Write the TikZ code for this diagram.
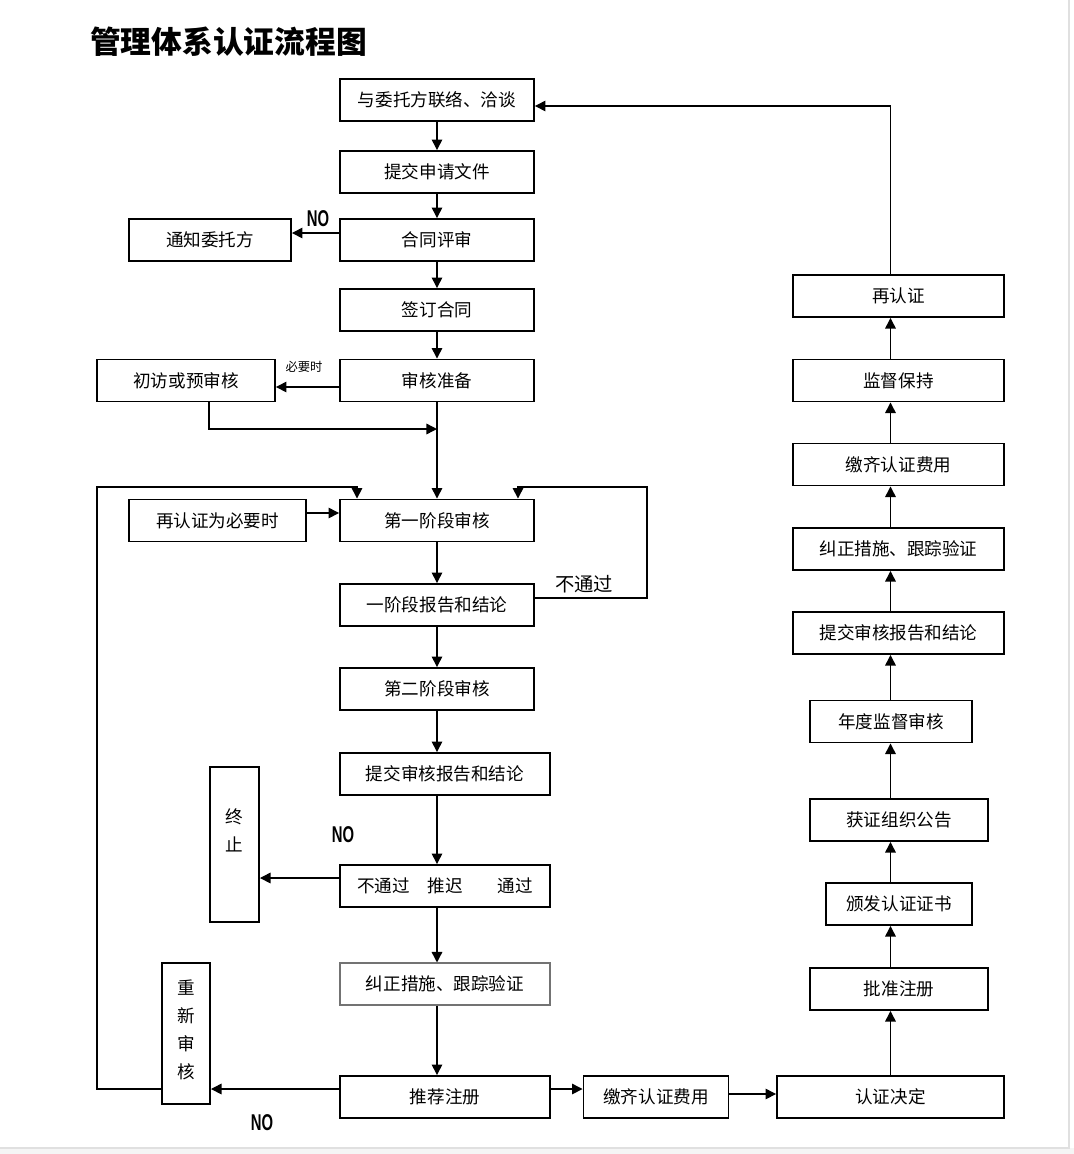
\documentclass[tikz,border=0pt]{standalone}
\usepackage{fontspec}
\setmainfont{Liberation Serif}
\newfontfamily\cjk{Noto Sans CJK SC}
\newfontfamily\nofont{Liberation Sans}
\usetikzlibrary{arrows.meta}

\begin{document}
\begin{tikzpicture}[
  x=0.02cm, y=-0.02cm,
  box/.style={draw, line width=1.1pt, minimum height=0.84cm, inner sep=0pt,
    font=\cjk\fontsize{10}{12}\selectfont},
  vbox/.style={draw, line width=1.1pt, inner sep=0pt, align=center,
    font=\cjk\fontsize{10}{16}\selectfont},
  flow/.style={-{Triangle[length=6pt,width=6pt]}, line width=0.8pt},
  nolabel/.style={font=\nofont\bfseries\fontsize{13}{15}\selectfont}
]
  \useasboundingbox (0,0) rectangle (1074,1154);
  \fill[white] (0,0) rectangle (1074,1154);
  \fill[black!4] (0,1148) rectangle (1074,1154);
  \draw[black!12, line width=0.6pt] (1069,0) -- (1069,1148) -- (0,1148);

  %% Title
  \node[anchor=west, font=\cjk\bfseries\fontsize{17.5}{20}\selectfont] (title) at (84,42) {管理体系认证流程图};

  %% Main column
  \node[box, minimum width=3.88cm] (c1) at (437,100) {与委托方联络、洽谈};
  \node[box, minimum width=3.88cm] (c2) at (437,172) {提交申请文件};
  \node[box, minimum width=3.88cm] (c3) at (437,240) {合同评审};
  \node[box, minimum width=3.88cm] (c4) at (437,310) {签订合同};
  \node[box, minimum width=3.88cm] (c5) at (437,380.5) {审核准备};
  \node[box, minimum width=3.88cm] (c6) at (437,520.5) {第一阶段审核};
  \node[box, minimum width=3.88cm] (c7) at (437,605) {一阶段报告和结论};
  \node[box, minimum width=3.88cm] (c8) at (437,689) {第二阶段审核};
  \node[box, minimum width=4.2cm] (c9) at (445,774) {提交审核报告和结论};
  \node[box, minimum width=4.2cm] (c10) at (445,886) {不通过\hspace{1em}推迟\hspace{2em}通过};
  \node[box, minimum width=4.2cm, draw=black!55, line width=0.6pt] (c11) at (445,984) {纠正措施、跟踪验证};
  \node[box, minimum width=4.2cm] (c12) at (445,1097) {推荐注册};

  %% Side boxes
  \node[box, minimum width=3.24cm] (notify) at (210,240) {通知委托方};
  \node[box, minimum width=3.56cm] (pre) at (186,380.5) {初访或预审核};
  \node[box, minimum width=3.54cm] (recert) at (217.5,520.5) {再认证为必要时};
  \node[vbox, minimum width=0.98cm, minimum height=3.1cm] (term) at (234.5,844.5) {终\\止\\\mbox{}};
  \node[vbox, minimum width=0.96cm, minimum height=2.82cm] (reaudit) at (186,1033.5) {重\\新\\审\\核\\[-0.4cm]\mbox{}};
  \node[box, minimum width=2.9cm] (fee) at (656,1097) {缴齐认证费用};
  \node[box, minimum width=4.54cm] (decide) at (890.5,1097) {认证决定};

  %% Right column
  \node[box, minimum width=3.56cm] (r1) at (899,989) {批准注册};
  \node[box, minimum width=2.92cm] (r2) at (899,904) {颁发认证证书};
  \node[box, minimum width=3.56cm] (r3) at (899,820) {获证组织公告};
  \node[box, minimum width=3.24cm] (r4) at (891,721.5) {年度监督审核};
  \node[box, minimum width=4.22cm] (r5) at (898.5,633) {提交审核报告和结论};
  \node[box, minimum width=4.22cm] (r6) at (898.5,549) {纠正措施、跟踪验证};
  \node[box, minimum width=4.22cm] (r7) at (898.5,464.5) {缴齐认证费用};
  \node[box, minimum width=4.22cm] (r8) at (898.5,380.5) {监督保持};
  \node[box, minimum width=4.22cm] (r9) at (898.5,296) {再认证};

  %% Labels
  \node[nolabel] (no1) at (318,219) {\scalebox{0.65}[1]{NO}};
  \node[nolabel] (no2) at (343,835) {\scalebox{0.65}[1]{NO}};
  \node[nolabel] (no3) at (262,1123) {\scalebox{0.65}[1]{NO}};
  \node[font=\cjk\fontsize{7}{8}\selectfont] (need) at (304,367) {必要时};
  \node[font=\cjk\fontsize{11}{13}\selectfont] (fail) at (584,584) {不通过};

  %% Coordinates
  \coordinate (join) at (437,429);
  \coordinate (loopL) at (97,487);
  \coordinate (loopR) at (647,487);

  %% Edges
  \foreach \a/\b in {c1/c2, c2/c3, c3/c4, c4/c5, c5/c6, c6/c7, c7/c8, c8/c9, c9/c10, c10/c11, c11/c12}
    \draw[flow] (\a.south -| c1.south) -- (\b.north -| c1.south);
  \foreach \a/\b in {decide/r1, r1/r2, r2/r3, r3/r4, r4/r5, r5/r6, r6/r7, r7/r8, r8/r9}
    \draw[flow] (\a.north -| decide.north) -- (\b.south -| decide.north);

  \draw[flow] ([yshift=0.14cm]c3.west) -- ([yshift=0.14cm]c3.west -| notify.east);
  \draw[flow] ([yshift=-0.13cm]c5.west) -- ([yshift=-0.13cm]c5.west -| pre.east);
  \draw[flow] ([xshift=0.46cm]pre.south) |- (join);
  \draw[flow] ([yshift=0.15cm]recert.east) -- ([yshift=0.15cm]recert.east -| c6.west);
  \draw[flow] ([yshift=0.14cm]c7.east) -| (loopR) -| ([xshift=1.62cm]c6.north);
  \draw[flow] ([yshift=0.16cm]c10.west) -- ([yshift=0.16cm]c10.west -| term.east);
  \draw[flow] ([yshift=0.16cm]c12.west) -- ([yshift=0.16cm]c12.west -| reaudit.east);
  \draw[flow] ([yshift=0.16cm]c12.west -| reaudit.west) -| (loopL) -| ([xshift=-1.6cm]c6.north);
  \draw[flow] ([yshift=0.16cm]c12.east) -- ([yshift=0.16cm]c12.east -| fee.west);
  \draw[flow] ([yshift=0.06cm]fee.east) -- ([yshift=0.06cm]fee.east -| decide.west);
  \draw[flow] (r9.north -| decide.north) |- ([yshift=-0.12cm]c1.east);
\end{tikzpicture}
\end{document}
